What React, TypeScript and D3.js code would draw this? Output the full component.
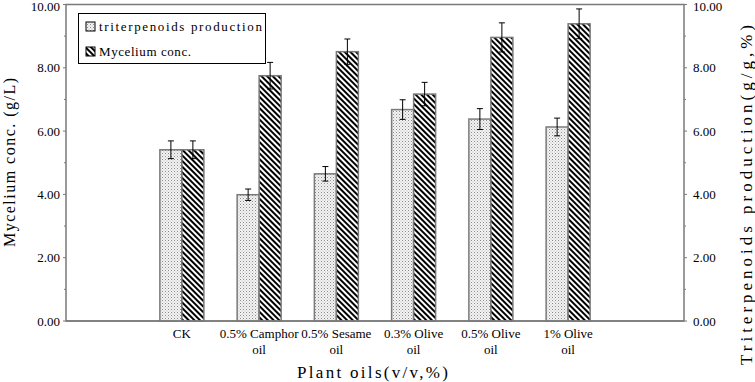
import React from "react";
import * as d3 from "d3";

const categories = ["CK", "0.5% Camphor oil", "0.5% Sesame oil", "0.3% Olive oil", "0.5% Olive oil", "1% Olive oil"];
const categoryLines = [["CK"], ["0.5% Camphor", "oil"], ["0.5% Sesame", "oil"], ["0.3% Olive", "oil"], ["0.5% Olive", "oil"], ["1% Olive", "oil"]];
const triterpenoids = [5.41, 3.99, 4.65, 6.68, 6.38, 6.13];
const triterpenoidsErr = [0.28, 0.18, 0.23, 0.31, 0.33, 0.28];
const mycelium = [5.41, 7.75, 8.51, 7.17, 8.96, 9.39];
const myceliumErr = [0.28, 0.42, 0.4, 0.37, 0.46, 0.47];
const yTicks = [0, 2, 4, 6, 8, 10];
const yMinorTicks = [1, 3, 5, 7, 9];
const seriesNames = ["triterpenoids production", "Mycelium conc."];

const W = 755, H = 382;
const L = 66, R = 684, T = 4.5, B = 321;
const FONT = "'Liberation Serif', 'DejaVu Serif', serif";
const AXC = "#7a7a7a";

export default function App() {
  const slot = (R - L) / 8;
  const x = d3.scaleBand<string>().domain(categories).range([L + slot, R - slot]).paddingInner(0).paddingOuter(0);
  const y = d3.scaleLinear().domain([0, 10]).range([B, T]);
  const bw = 22;
  const fmt = d3.format(".2f");

  const errBar = (cx: number, v: number, e: number, key: string) => (
    <g key={key} stroke="#000" strokeWidth={1}>
      <line x1={cx} x2={cx} y1={y(v + e)} y2={y(v - e)} />
      <line x1={cx - 3} x2={cx + 3} y1={y(v + e)} y2={y(v + e)} />
      <line x1={cx - 3} x2={cx + 3} y1={y(v - e)} y2={y(v - e)} />
    </g>
  );

  return (
    <div style={{ position: "absolute", left: 0, top: 0 }}>
      <svg width={W} height={H} style={{ display: "block", background: "#fff" }}>
        <defs>
          <pattern id="dots" patternUnits="userSpaceOnUse" width={3} height={3}>
            <rect width={3} height={3} fill="#f4f4f4" />
            <rect x={0} y={0} width={1} height={1} fill="#8a8a8a" />
            <rect x={1.5} y={1.5} width={1} height={1} fill="#b0b0b0" />
          </pattern>
          <pattern id="hatch" patternUnits="userSpaceOnUse" width={4} height={4} patternTransform="rotate(45)">
            <rect width={4} height={4} fill="#fff" />
            <rect width={4} height={2} fill="#000" />
          </pattern>
        </defs>

        <rect x={L} y={T} width={R - L} height={B - T} fill="none" stroke={AXC} strokeWidth={1.5} />

        {yTicks.map((t) => (
          <g key={"l" + t}>
            <line x1={L - 3} x2={L} y1={y(t)} y2={y(t)} stroke={AXC} />
            <text x={60} y={Math.max(y(t), 6.5)} dy="0.35em" textAnchor="end" fontFamily={FONT} fontSize={13} fill="#000">{fmt(t)}</text>
            <line x1={R} x2={R + 3} y1={y(t)} y2={y(t)} stroke={AXC} />
            <text x={693} y={Math.max(y(t), 6.5)} dy="0.35em" textAnchor="start" fontFamily={FONT} fontSize={13} fill="#000">{fmt(t)}</text>
          </g>
        ))}
        {yMinorTicks.map((t) => (
          <g key={"m" + t}>
            <line x1={L - 2} x2={L} y1={y(t)} y2={y(t)} stroke={AXC} />
            <line x1={R} x2={R + 2} y1={y(t)} y2={y(t)} stroke={AXC} />
          </g>
        ))}

        {categories.map((c, i) => {
          const cx = (x(c) as number) + x.bandwidth() / 2;
          return (
            <g key={c}>
              <rect x={cx - bw} y={y(triterpenoids[i])} width={bw} height={B - y(triterpenoids[i])} fill="url(#dots)" stroke={AXC} strokeWidth={1.5} />
              <rect x={cx} y={y(mycelium[i])} width={bw} height={B - y(mycelium[i])} fill="url(#hatch)" stroke={AXC} strokeWidth={1.5} />
              {errBar(cx - bw / 2, triterpenoids[i], triterpenoidsErr[i], "e1")}
              {errBar(cx + bw / 2, mycelium[i], myceliumErr[i], "e2")}
              {categoryLines[i].map((ln, j) => (
                <text key={j} x={cx} y={338 + j * 16} textAnchor="middle" fontFamily={FONT} fontSize={13} fill="#000">{ln}</text>
              ))}
            </g>
          );
        })}
        <line x1={L} x2={R} y1={B} y2={B} stroke={AXC} strokeWidth={1.5} />

        <rect x={78.5} y={13.5} width={187} height={50} fill="#fff" stroke="#000" strokeWidth={1} />
        <rect x={86} y={22} width={9} height={9} fill="url(#dots)" stroke="#000" strokeWidth={1} />
        <text x={99} y={31} fontFamily={FONT} fontSize={13} textLength={163} lengthAdjust="spacing" fill="#000">{seriesNames[0]}</text>
        <rect x={86} y={47} width={9} height={9} fill="url(#hatch)" stroke="#000" strokeWidth={1} />
        <text x={99} y={56} fontFamily={FONT} fontSize={13} textLength={92} lengthAdjust="spacing" fill="#000">{seriesNames[1]}</text>

        <text transform="translate(15,162.5) rotate(-90)" textAnchor="middle" fontFamily={FONT} fontSize={16} textLength={169} lengthAdjust="spacing" fill="#000">Mycelium conc. (g/L)</text>
        <text transform="translate(752,195) rotate(-90)" textAnchor="middle" fontFamily={FONT} fontSize={17} textLength={340} lengthAdjust="spacing" fill="#000">Triterpenoids production(g/g,%)</text>
        <text x={372.5} y={378} textAnchor="middle" fontFamily={FONT} fontSize={17} textLength={151} lengthAdjust="spacing" fill="#000">Plant oils(v/v,%)</text>
      </svg>
    </div>
  );
}
